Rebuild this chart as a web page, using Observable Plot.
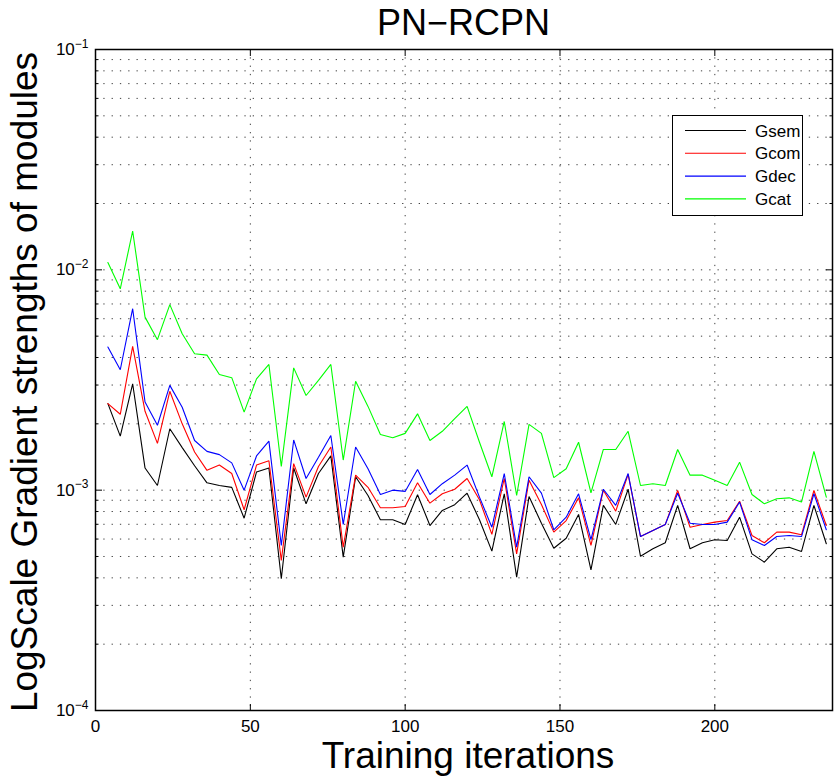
<!DOCTYPE html>
<html>
<head>
<meta charset="utf-8">
<script src="https://cdn.jsdelivr.net/npm/d3@7"></script>
<script src="https://cdn.jsdelivr.net/npm/@observablehq/plot@0.6"></script>
<style>
  body { margin: 0; background: #fff; font-family: "Liberation Sans", Arial, Helvetica, sans-serif; }
  #wrap { position: relative; width: 836px; height: 780px; overflow: hidden; }
  #chart { position: absolute; left: 0; top: 0; }
  #title { position: absolute; left: 95px; width: 737px; top: 1px; text-align: center;
           font-size: 36px; line-height: 44px; color: #000; }
  #legend { position: absolute; left: 672px; top: 115px; width: 131px; height: 101px;
            box-sizing: border-box; border: 1.5px solid #000; background: #fff; }
</style>
</head>
<body>
<div id="wrap">
  <div id="chart"></div>
  <div id="title">PN−RCPN</div>
  <div id="legend"></div>
</div>
<script>
// Training iteration at which each gradient strength was logged
const iterations = [4, 8, 12, 16, 20, 24, 28, 32, 36, 40, 44, 48, 52, 56, 60, 64, 68, 72, 76, 80,
  84, 88, 92, 96, 100, 104, 108, 112, 116, 120, 124, 128, 132, 136, 140, 144, 148, 152, 156, 160,
  164, 168, 172, 176, 180, 184, 188, 192, 196, 200, 204, 208, 212, 216, 220, 224, 228, 232, 236];

// Gradient strength of each module
const gsem = [0.00247, 0.00176, 0.00304, 0.00126, 0.00105, 0.00190, 0.00156, 0.00129, 0.00108, 0.00105,
  0.00103, 0.000746, 0.00121, 0.00126, 0.000396, 0.00126, 0.000867, 0.00119, 0.00143, 0.000497,
  0.00115, 0.000946, 0.000734, 0.000734, 0.000699, 0.000953, 0.000691, 0.000809, 0.000859, 0.000969,
  0.000734, 0.000529, 0.000963, 0.000403, 0.000936, 0.000708, 0.000545, 0.000605, 0.000776, 0.000435,
  0.000853, 0.000699, 0.00101, 0.000501, 0.000542, 0.000577, 0.000853, 0.000542, 0.000577, 0.000596,
  0.000591, 0.000754, 0.000514, 0.000471, 0.000542, 0.000551, 0.000527, 0.000853, 0.000571];

const gcom = [0.00247, 0.00221, 0.00449, 0.00228, 0.00163, 0.00281, 0.00200, 0.00149, 0.00123, 0.00130,
  0.00119, 0.000815, 0.00130, 0.00136, 0.000480, 0.00132, 0.000930, 0.00128, 0.00157, 0.000551,
  0.00117, 0.00103, 0.000832, 0.000832, 0.000843, 0.00108, 0.000873, 0.000963, 0.00101, 0.00113,
  0.000904, 0.000630, 0.00113, 0.000514, 0.00111, 0.000861, 0.000645, 0.000728, 0.000923, 0.000561,
  0.00100, 0.000803, 0.00118, 0.000616, 0.000656, 0.000699, 0.000997, 0.000679, 0.000699, 0.000716,
  0.000728, 0.000891, 0.000623, 0.000577, 0.000645, 0.000645, 0.000628, 0.000997, 0.000691];

const gdec = [0.00446, 0.00352, 0.00666, 0.00251, 0.00197, 0.00299, 0.00238, 0.00168, 0.00150, 0.00145,
  0.00133, 0.00100, 0.00143, 0.00167, 0.000561, 0.00169, 0.00113, 0.00141, 0.00177, 0.000699,
  0.00157, 0.00125, 0.000956, 0.00100, 0.000987, 0.00124, 0.000956, 0.00107, 0.00117, 0.00130,
  0.000930, 0.000679, 0.00119, 0.000551, 0.00115, 0.000969, 0.000661, 0.000754, 0.000963, 0.000596,
  0.00101, 0.000853, 0.00119, 0.000616, 0.000656, 0.000699, 0.000969, 0.000708, 0.000699, 0.000699,
  0.000716, 0.000883, 0.000596, 0.000561, 0.000616, 0.000623, 0.000616, 0.000963, 0.000661];

const gcat = [0.0108, 0.0082, 0.0150, 0.0061, 0.00482, 0.00695, 0.00513, 0.00416, 0.00410, 0.00335,
  0.00324, 0.00226, 0.00320, 0.00372, 0.00128, 0.00359, 0.00269, 0.00315, 0.00372, 0.00137,
  0.00312, 0.00240, 0.00179, 0.00173, 0.00181, 0.00222, 0.00168, 0.00185, 0.00211, 0.00240,
  0.00165, 0.00115, 0.00205, 0.000946, 0.00199, 0.00181, 0.00114, 0.00125, 0.00165, 0.000973,
  0.00153, 0.00153, 0.00185, 0.00105, 0.00107, 0.00105, 0.00153, 0.00117, 0.00117, 0.00111,
  0.00105, 0.00134, 0.000956, 0.000867, 0.000914, 0.000923, 0.000883, 0.00150, 0.000930];

const seriesNames = ["Gsem", "Gcom", "Gdec", "Gcat"];
const seriesColors = ["#000000", "#ff0000", "#0000ff", "#00ff00"];
const seriesValues = [gsem, gcom, gdec, gcat];

// Axis ticks
const xTicks = [0, 50, 100, 150, 200];
const yDecades = [1e-4, 1e-3, 1e-2, 1e-1];
const yExponents = ["−4", "−3", "−2", "−1"];
const yMinor = [];
for (const d of yDecades.slice(0, -1)) for (let m = 2; m <= 9; m++) yMinor.push(d * m);

// Long-format table for the line mark
const rows = [];
seriesNames.forEach((name, s) => {
  iterations.forEach((it, i) => rows.push({series: name, iter: it, value: seriesValues[s][i]}));
});

const font = "'Liberation Sans', Arial, Helvetica, sans-serif";
const gridStyle = {stroke: "#000", strokeOpacity: 0.75, strokeWidth: 1, strokeDasharray: "1.3,7"};

const svg = Plot.plot({
  width: 836,
  height: 780,
  marginLeft: 95,
  marginRight: 4,
  marginTop: 49,
  marginBottom: 70,
  style: {fontFamily: font, fontSize: "17px", background: "#fff", color: "#000"},
  x: {domain: [0, 238], label: null},
  y: {type: "log", domain: [1e-4, 1e-1], label: null},
  color: {domain: seriesNames, range: seriesColors},
  marks: [
    // dotted grid: decades, minor log steps and x ticks
    Plot.gridY(yDecades.concat(yMinor), gridStyle),
    Plot.gridX(xTicks, gridStyle),
    // module curves
    Plot.line(rows, {x: "iter", y: "value", z: "series", stroke: "series", strokeWidth: 1.1, strokeLinejoin: "miter"}),
    // axes box
    Plot.frame({stroke: "#000", strokeWidth: 1.5}),
    // inward ticks on all four sides
    Plot.axisX(xTicks, {anchor: "bottom", tickSize: -6, fill: "none", label: null}),
    Plot.axisX(xTicks, {anchor: "top", tickSize: -6, fill: "none", label: null}),
    Plot.axisY(yDecades, {anchor: "left", tickSize: -7, fill: "none", label: null}),
    Plot.axisY(yDecades, {anchor: "right", tickSize: -7, fill: "none", label: null}),
    Plot.axisY(yMinor, {anchor: "left", tickSize: -3.5, fill: "none", label: null}),
    Plot.axisY(yMinor, {anchor: "right", tickSize: -3.5, fill: "none", label: null}),
    // tick labels
    Plot.axisX(xTicks, {anchor: "bottom", tickSize: 0, tickPadding: 9, fontSize: 17, fontFamily: font, label: null}),
    Plot.axisY(yDecades, {anchor: "left", tickSize: 0, tickPadding: 7, fontSize: 17, fontFamily: font, label: null,
      tickFormat: (d) => "10^" + yExponents[yDecades.indexOf(d)]}),
    // axis titles
    Plot.text(["Training iterations"], {text: (d) => d, frameAnchor: "bottom", lineAnchor: "bottom",
      dy: 57, dx: 4, fontSize: 37, fontFamily: font}),
    Plot.text(["LogScale Gradient strengths of modules"], {text: (d) => d, frameAnchor: "left", textAnchor: "middle",
      lineAnchor: "bottom", rotate: -90, dx: -59, dy: 2, fontSize: 37, fontFamily: font})
  ]
});

// Power-of-ten labels: base plus superscript exponent
d3.select(svg).selectAll('g[aria-label="y-axis tick label"] text').each(function () {
  const t = d3.select(this);
  const [base, exp] = t.text().split("^");
  t.text(base);
  t.append("tspan").attr("dy", "-0.62em").attr("font-size", "12px").text(exp);
});

document.getElementById("chart").appendChild(svg);

// Legend box
const leg = d3.select("#legend").append("svg").attr("width", 128).attr("height", 98);
const item = leg.selectAll("g").data(seriesNames).join("g")
  .attr("transform", (d, i) => `translate(0,${14.5 + i * 22.8})`);
item.append("line").attr("x1", 12).attr("x2", 73).attr("y1", 0).attr("y2", 0)
  .attr("stroke", (d, i) => seriesColors[i]).attr("stroke-width", 1.1);
item.append("text").attr("x", 82).attr("y", 6).attr("font-size", 17)
  .attr("font-family", font).text((d) => d);
</script>
</body>
</html>
